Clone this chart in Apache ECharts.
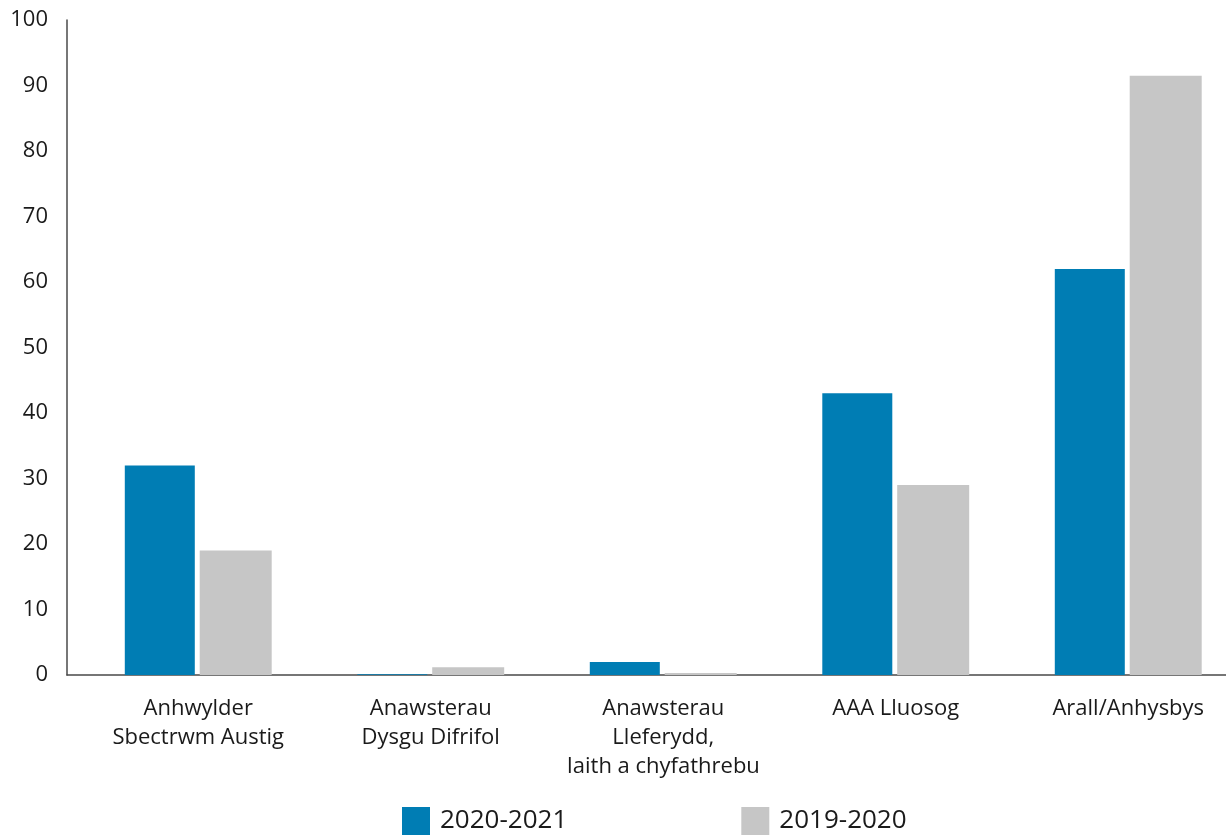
<!DOCTYPE html>
<html><head><meta charset="utf-8">
<script src="https://cdn.jsdelivr.net/npm/echarts@6/dist/echarts.min.js"></script>
<style>html,body{margin:0;padding:0;background:#fff}#c{width:1226px;height:839px}</style>
</head><body><div id="c"></div>
<script>
const categories = ['Anhwylder\nSbectrwm Austig', 'Anawsterau\nDysgu Difrifol', 'Anawsterau\nLleferydd,\nIaith a chyfathrebu', 'AAA Lluosog', 'Arall/Anhysbys'];
const series2021 = [32, 0.1, 2, 43, 62];
const series2020 = [19, 1.2, 0.3, 29, 91.5];
const seriesNames = ['2020-2021', '2019-2020'];
const yTicks = [0, 10, 20, 30, 40, 50, 60, 70, 80, 90, 100];

const FONT = 'Open Sans';
const chart = echarts.init(document.getElementById('c'), null, {renderer: 'canvas'});
chart.setOption({
  animation: false,
  textStyle: {fontFamily: FONT},
  grid: [
    {left: 67, right: 0, top: 20, bottom: 164, containLabel: false, outerBoundsMode: 'none'},
    {left: 82, width: 1162.5, top: 20, bottom: 164, containLabel: false, outerBoundsMode: 'none'}
  ],
  legend: {
    left: 402, top: 807, padding: 0,
    itemWidth: 28, itemHeight: 28, itemGap: 174,
    icon: 'rect',
    textStyle: {fontFamily: FONT, fontSize: 26, color: '#1a1a1a', padding: [0, 0, 0, 5]},
    data: seriesNames
  },
  xAxis: [
    {gridIndex: 0, type: 'value', min: 0, max: 1, axisLine: {show: true, onZero: false, lineStyle: {color: '#4a4a4a', width: 1.5}},
     axisTick: {show: false}, axisLabel: {show: false}, splitLine: {show: false}},
    {gridIndex: 1, type: 'category', data: categories, axisLine: {show: false}, axisTick: {show: false},
     axisLabel: {fontFamily: FONT, fontSize: 22, color: '#1a1a1a', lineHeight: 29, margin: 19, interval: 0}}
  ],
  yAxis: [
    {gridIndex: 0, type: 'value', min: 0, max: 100, interval: 10,
     axisLine: {show: true, lineStyle: {color: '#4a4a4a', width: 1.5}}, axisTick: {show: false},
     splitLine: {show: false},
     axisLabel: {fontFamily: FONT, fontSize: 22, color: '#1a1a1a', margin: 19,
       formatter: v => yTicks.includes(v) ? String(v) : ''}},
    {gridIndex: 1, type: 'value', min: 0, max: 100, interval: 10, show: false, splitLine: {show: false}}
  ],
  series: [
    {name: seriesNames[0], type: 'bar', xAxisIndex: 1, yAxisIndex: 1, data: series2021,
     barWidth: 70, barGap: '7%', itemStyle: {color: '#007db4'}},
    {name: seriesNames[1], type: 'bar', xAxisIndex: 1, yAxisIndex: 1, data: series2020,
     barWidth: 72, barGap: '7%', itemStyle: {color: '#c6c6c6'}}
  ]
});
</script></body></html>
